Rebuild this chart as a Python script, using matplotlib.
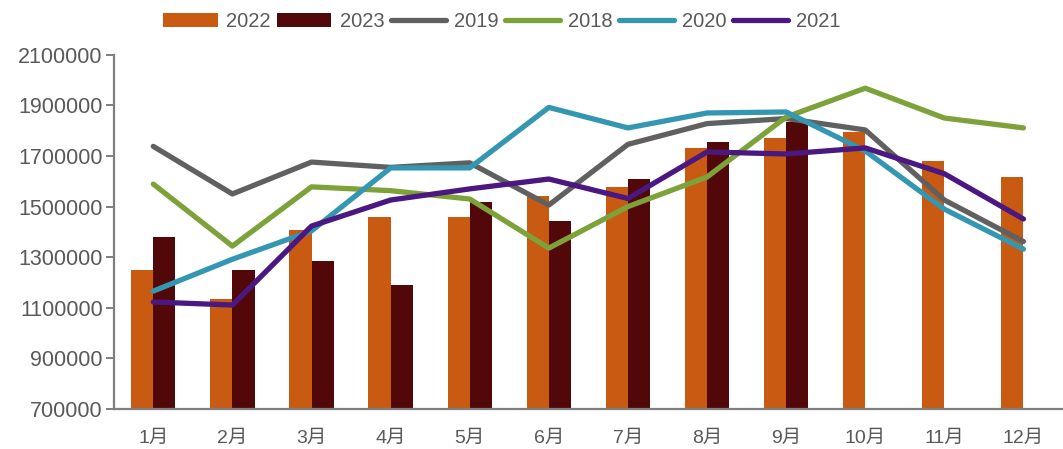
import numpy as np
import matplotlib as mpl
mpl.use("Agg")
import matplotlib.pyplot as plt

plt.rcParams['font.family'] = ['Liberation Sans', 'Noto Sans CJK SC', 'DejaVu Sans']

# data
months = ["1月", "2月", "3月", "4月", "5月", "6月", "7月", "8月", "9月", "10月", "11月", "12月"]
y2022 = [1250000, 1135000, 1408000, 1459000, 1460000, 1543000, 1578000, 1730000, 1771000, 1795000, 1680000, 1617000]
y2023 = [1380000, 1250000, 1285000, 1190000, 1518000, 1443000, 1609000, 1755000, 1834000]
y2019 = [1738000, 1550000, 1676000, 1655000, 1673000, 1506000, 1746000, 1828000, 1848000, 1803000, 1526000, 1362000]
y2018 = [1589000, 1344000, 1578000, 1563000, 1530000, 1336000, 1500000, 1617000, 1854000, 1968000, 1850000, 1811000]
y2020 = [1166000, 1292000, 1404000, 1653000, 1653000, 1892000, 1811000, 1870000, 1874000, 1720000, 1490000, 1332000]
y2021 = [1123000, 1111000, 1423000, 1526000, 1570000, 1609000, 1532000, 1716000, 1708000, 1732000, 1630000, 1451000]

yticks = [700000, 900000, 1100000, 1300000, 1500000, 1700000, 1900000, 2100000]

text_col = "#595959"
axis_col = "#7F7F7F"

fig = plt.figure(figsize=(10.63, 4.49), dpi=100)
ax = fig.add_axes([0.107, 0.089, 0.893, 0.789])

x = np.arange(len(months))
w = 0.28
ax.bar(x - w / 2, y2022, width=w, color="#C85A12", label="2022", zorder=2)
ax.bar(x[:len(y2023)] + w / 2, y2023, width=w, color="#520808", label="2023", zorder=2)

lw = 3.8
ax.plot(x, y2019, color="#606060", lw=lw, label="2019", zorder=3, solid_capstyle="round")
ax.plot(x, y2018, color="#7DA23A", lw=lw, label="2018", zorder=3, solid_capstyle="round")
ax.plot(x, y2020, color="#3497B2", lw=lw, label="2020", zorder=3, solid_capstyle="round")
ax.plot(x, y2021, color="#4A1880", lw=lw, label="2021", zorder=3, solid_capstyle="round")

ax.set_xlim(-0.5, 11.5)
ax.set_ylim(700000, 2100000)
ax.set_yticks(yticks)
ax.set_yticklabels([str(t) for t in yticks])
ax.set_xticks(x)
ax.set_xticklabels(months)

for s in ["top", "right"]:
    ax.spines[s].set_visible(False)
for s in ["left", "bottom"]:
    ax.spines[s].set_color(axis_col)
    ax.spines[s].set_linewidth(1.6)

ax.tick_params(axis="y", colors=axis_col, labelcolor=text_col, labelsize=15.5,
               length=6, width=1.4, direction="out", pad=2)
ax.tick_params(axis="x", length=0, labelcolor=text_col, labelsize=14, pad=15)

handles, labels = ax.get_legend_handles_labels()
order = ["2022", "2023", "2019", "2018", "2020", "2021"]
hmap = dict(zip(labels, handles))
fig.legend([hmap[k] for k in order], order, loc="center", bbox_to_anchor=(0.472, 0.952),
           ncol=6, frameon=False, fontsize=14.5, labelcolor=text_col,
           handlelength=2.7, handletextpad=0.4, columnspacing=0.35)

fig.savefig("out.png", dpi=100)
